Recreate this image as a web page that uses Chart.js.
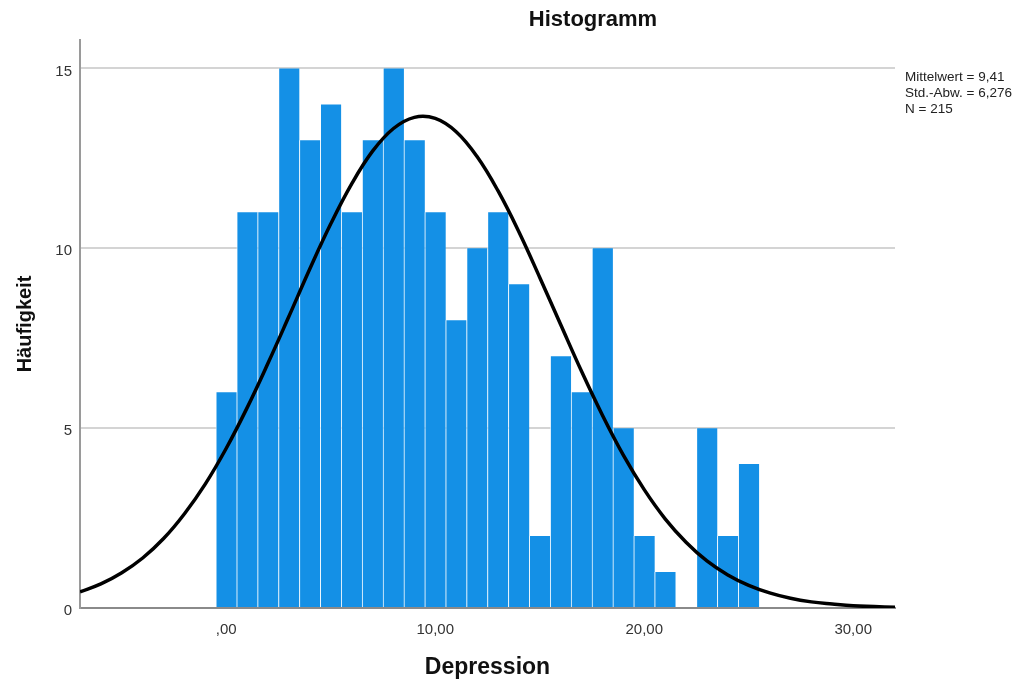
<!DOCTYPE html>
<html>
<head>
<meta charset="utf-8">
<script src="https://cdn.jsdelivr.net/npm/chart.js"></script>
<style>
  html, body { margin: 0; padding: 0; background: #fff; }
  #wrap { width: 1035px; height: 684px; }
</style>
</head>
<body>
<div id="wrap"><canvas id="chart" width="1035" height="684"></canvas></div>
<script>
// Histogramm-Daten (Depression, Bins mit Breite 1)
const depressionScores = [0, 1, 2, 3, 4, 5, 6, 7, 8, 9, 10, 11, 12, 13, 14, 15, 16, 17, 18, 19, 20, 21, 22, 23, 24, 25];
const frequencies = [6, 11, 11, 15, 13, 14, 11, 13, 15, 13, 11, 8, 10, 11, 9, 2, 7, 6, 10, 5, 2, 1, 0, 5, 2, 4];

// Normalverteilungskurve
const curveX = [-7, -6, -5, -4, -3, -2, -1, 0, 1, 2, 3, 4, 5, 6, 7, 8, 9, 10, 11, 12, 13, 14, 15, 16, 17, 18, 19, 20, 21, 22, 23, 24, 25, 26, 27, 28, 29, 30, 31, 32];
const curveY = [0.45, 0.67, 0.98, 1.39, 1.93, 2.62, 3.45, 4.44, 5.57, 6.81, 8.11, 9.43, 10.68, 11.79, 12.70, 13.33, 13.64, 13.61, 13.24, 12.55, 11.60, 10.46, 9.19, 7.88, 6.58, 5.36, 4.25, 3.29, 2.48, 1.83, 1.31, 0.92, 0.63, 0.42, 0.27, 0.17, 0.11, 0.06, 0.04, 0.02];

const xTicks = [0, 10, 20, 30];
const yTicks = [0, 5, 10, 15];
const statsLines = ['Mittelwert = 9,41', 'Std.-Abw. = 6,276', 'N = 215'];

Chart.defaults.font.family = "'Liberation Sans', Arial, sans-serif";
Chart.defaults.color = '#333';

// Titel und Kennwerte
const textPlugin = {
  id: 'texts',
  afterDraw(chart) {
    const ctx = chart.ctx;
    ctx.save();
    ctx.fillStyle = '#111';
    ctx.textBaseline = 'middle';
    ctx.textAlign = 'center';
    ctx.font = "bold 22px 'Liberation Sans', Arial, sans-serif";
    ctx.fillText('Histogramm', 593, 20);
    ctx.textAlign = 'left';
    ctx.fillStyle = '#222';
    ctx.font = "13.5px 'Liberation Sans', Arial, sans-serif";
    statsLines.forEach((t, i) => ctx.fillText(t, 905, 77 + i * 16));
    ctx.restore();
  }
};

new Chart(document.getElementById('chart'), {
  type: 'bar',
  data: {
    datasets: [
      {
        type: 'line',
        order: 0,
        data: curveX.map((x, i) => ({ x: x, y: curveY[i] })),
        borderColor: '#000',
        borderWidth: 3.5,
        pointRadius: 0,
        tension: 0.4,
        fill: false
      },
      {
        type: 'bar',
        order: 1,
        data: depressionScores.map((x, i) => ({ x: x, y: frequencies[i] })),
        backgroundColor: '#1490e6',
        borderColor: 'rgba(255,255,255,0.65)',
        borderWidth: { left: 1, right: 0, top: 0, bottom: 0 },
        borderSkipped: false,
        barPercentage: 1,
        categoryPercentage: 1
      }
    ]
  },
  options: {
    responsive: false,
    animation: false,
    layout: { padding: { top: 40, right: 140, left: 0, bottom: 0 } },
    plugins: {
      legend: { display: false },
      tooltip: { enabled: false },
      title: { display: false }
    },
    scales: {
      x: {
        type: 'linear',
        min: -7,
        max: 32,
        offset: false,
        grid: { display: false },
        border: { display: true, color: '#8a8a8a', width: 2 },
        afterBuildTicks(scale) { scale.ticks = xTicks.map(v => ({ value: v })); },
        afterFit(scale) { scale.height = 76; },
        ticks: {
          padding: 5,
          font: { size: 15 },
          color: '#333',
          maxRotation: 0,
          callback: v => v.toFixed(2).replace('.', ',').replace(/^0/, '')
        },
        title: {
          display: true,
          text: 'Depression',
          color: '#111',
          font: { size: 23, weight: 'bold' },
          padding: { top: 0, bottom: 3 }
        }
      },
      y: {
        min: 0,
        max: 15.79,
        grid: { color: '#d4d4d4', lineWidth: 2, drawTicks: false },
        border: { display: true, color: '#9a9a9a', width: 2 },
        afterBuildTicks(scale) { scale.ticks = yTicks.map(v => ({ value: v })); },
        afterFit(scale) { scale.width = 80; },
        ticks: { padding: 8, labelOffset: 3, font: { size: 15 }, color: '#333' },
        title: {
          display: true,
          text: 'Häufigkeit',
          color: '#111',
          font: { size: 20, weight: 'bold' },
          padding: { top: 13, bottom: 0 }
        }
      }
    }
  },
  plugins: [textPlugin]
});
</script>
</body>
</html>
